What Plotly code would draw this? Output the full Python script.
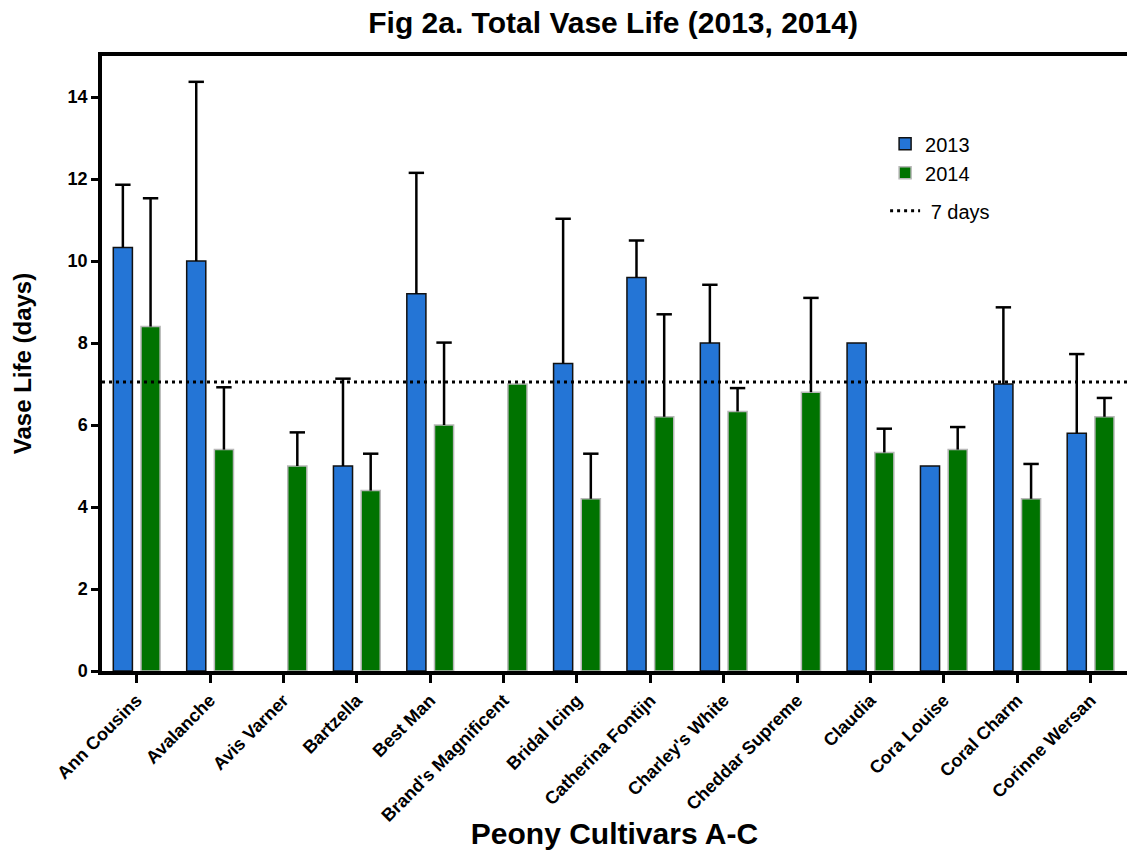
import plotly.graph_objects as go

cultivars = ["Ann Cousins", "Avalanche", "Avis Varner", "Bartzella", "Best Man",
             "Brand's Magnificent", "Bridal Icing", "Catherina Fontijn", "Charley's White",
             "Cheddar Supreme", "Claudia", "Cora Louise", "Coral Charm", "Corinne Wersan"]
life_2013 = [10.33, 10.0, None, 5.0, 9.2, None, 7.5, 9.6, 8.0, None, 8.0, 5.0, 7.0, 5.8]
err_2013 = [1.53, 4.37, None, 2.13, 2.95, None, 3.53, 0.9, 1.42, None, None, None, 1.87, 1.93]
life_2014 = [8.4, 5.4, 5.0, 4.4, 6.0, 7.0, 4.2, 6.2, 6.33, 6.8, 5.33, 5.4, 4.2, 6.2]
err_2014 = [3.13, 1.52, 0.82, 0.9, 2.01, None, 1.1, 2.5, 0.57, 2.3, 0.58, 0.55, 0.85, 0.46]
reference_days = 7.05
y_ticks = [0, 2, 4, 6, 8, 10, 12, 14]

FONT = "Liberation Sans, Arial, Helvetica, sans-serif"
x_idx = list(range(len(cultivars)))
BARGAP = 0.245


def tops(vals, errs):
    return [v + e if (v is not None and e is not None) else None for v, e in zip(vals, errs)]


fig = go.Figure()
series = [
    ("2013", life_2013, err_2013, "#2475D6", "#111111"),
    ("2014", life_2014, err_2014, "#007300", "#b8b8b8"),
]
for name, vals, errs, col, edge in series:
    fig.add_trace(go.Bar(
        x=x_idx, y=vals, name=name, legendgroup="years",
        marker=dict(color=col, line=dict(color=edge, width=1.5)),
        error_y=dict(type="data", array=errs, arrayminus=[0] * len(vals),
                     symmetric=False, color="black", thickness=2.5, width=0),
        hoverinfo="skip",
    ))
for name, vals, errs, col, edge in series:
    fig.add_trace(go.Scatter(
        x=x_idx, y=tops(vals, errs), mode="markers", showlegend=False,
        marker=dict(symbol="line-ew", size=11, color="black",
                    line=dict(color="black", width=2.5)),
        hoverinfo="skip",
    ))

fig.add_shape(type="line", xref="paper", yref="y", x0=0, x1=1,
              y0=reference_days, y1=reference_days,
              line=dict(color="black", width=3, dash="3px,4px"),
              showlegend=True, name=" 7 days", legendgroup="ref", legendrank=2000)

fig.update_layout(
    width=1127, height=850,
    margin=dict(l=102, r=0, t=56, b=179),
    paper_bgcolor="white", plot_bgcolor="white",
    barmode="group", bargap=BARGAP, bargroupgap=0.31,
    scattermode="group", scattergap=BARGAP,
    title=dict(text="Fig 2a. Total Vase Life (2013, 2014)", x=0.544, xanchor="center",
               y=1 - 22 / 850, yanchor="middle",
               font=dict(family=FONT, size=30, color="black", weight="bold")),
    font=dict(family=FONT, color="black"),
    legend=dict(x=0.764, y=0.889, xanchor="left", yanchor="top",
                bgcolor="rgba(0,0,0,0)", font=dict(family=FONT, size=20, color="black"),
                tracegroupgap=9, itemwidth=30),
    showlegend=True,
)
fig.update_xaxes(
    range=[-0.473, 13.496], tickmode="array", tickvals=x_idx, ticktext=cultivars,
    tickangle=-45, tickfont=dict(family=FONT, size=18, color="black", weight="bold"),
    ticks="outside", ticklen=8, tickwidth=3, tickcolor="black",
    showline=True, linewidth=3.5, linecolor="black", mirror=True,
    showgrid=False, zeroline=False,
    title=dict(text="Peony Cultivars A-C", standoff=2,
               font=dict(family=FONT, size=30, color="black", weight="bold")),
)
fig.update_yaxes(
    range=[0, 15], tickvals=y_ticks,
    tickfont=dict(family=FONT, size=18, color="black", weight="bold"),
    ticks="outside", ticklen=7, tickwidth=3, tickcolor="black",
    showline=True, linewidth=3.5, linecolor="black",
    showgrid=False, zeroline=False,
    title=dict(text="Vase Life (days)", standoff=30,
               font=dict(family=FONT, size=24, color="black", weight="bold")),
)

fig.write_html("out.html", config={"displayModeBar": False},
               post_script="document.body.style.margin='0';")
